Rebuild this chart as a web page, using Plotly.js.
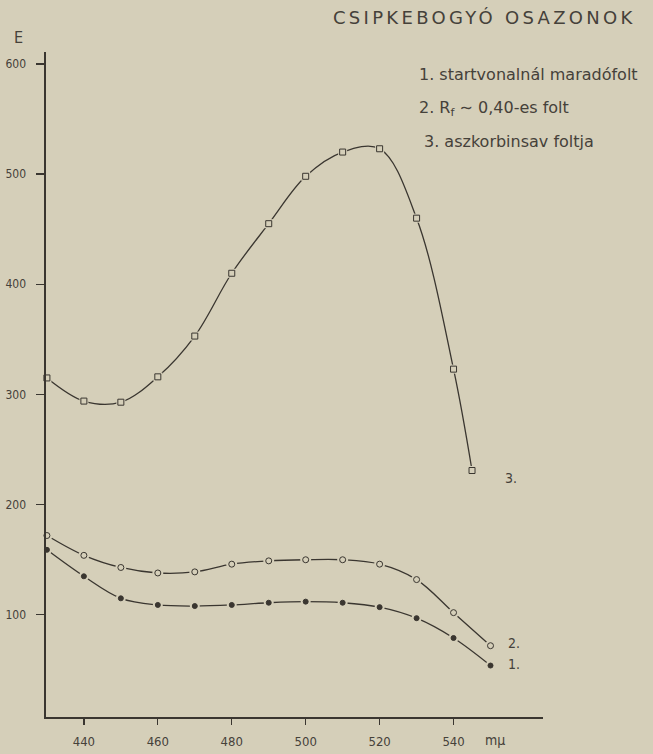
<!DOCTYPE html>
<html>
<head>
<meta charset="utf-8">
<script src="https://cdn.plot.ly/plotly-3.0.1.min.js"></script>
<style>
  html, body { margin: 0; padding: 0; background: #d5cfb9; }
  #chart { width: 653px; height: 754px; }
</style>
</head>
<body>
<div id="chart"></div>
<script>
// wavelength (mμ)
const wavelengths12 = [430, 440, 450, 460, 470, 480, 490, 500, 510, 520, 530, 540, 550];
const wavelengths3  = [430, 440, 450, 460, 470, 480, 490, 500, 510, 520, 530, 540, 545];

// 1. startvonalnál maradófolt
const series1 = [159, 135, 115, 109, 108, 109, 111, 112, 111, 107, 97, 79, 54];
// 2. Rf ~ 0,40-es folt
const series2 = [172, 154, 143, 138, 139, 146, 149, 150, 150, 146, 132, 102, 72];
// 3. aszkorbinsav foltja
const series3 = [315, 294, 293, 316, 353, 410, 455, 498, 520, 523, 460, 323, 231];

const xTicks = [440, 460, 480, 500, 520, 540];
const yTicks = [100, 200, 300, 400, 500, 600];

const legendTexts = ["1. startvonalnál maradófolt", "2. R<sub>f</sub> ∼ 0,40-es folt", "3. aszkorbinsav foltja"];
const titleText = "CSIPKEBOGYÓ OSAZONOK";

const BG = "#d5cfb9";
const INK = "#3a3630";
const TXT = "#45413a";
const FONT = "DejaVu Sans, sans-serif";
const FONTC = "DejaVu Sans Condensed, Liberation Sans Narrow, DejaVu Sans, sans-serif";

function lineTrace(x, y) {
  return { x: x, y: y, type: "scatter", mode: "lines", line: { color: INK, width: 1.3, shape: "spline", smoothing: 1 }, hoverinfo: "skip", cliponaxis: false };
}
function gapTrace(x, y, size, symbol) {
  return { x: x, y: y, type: "scatter", mode: "markers", marker: { symbol: symbol, size: size, color: BG, line: { width: 0 } }, hoverinfo: "skip", cliponaxis: false };
}
function markTrace(x, y, symbol, size, fill) {
  return { x: x, y: y, type: "scatter", mode: "markers", marker: { symbol: symbol, size: size, color: fill, line: { color: INK, width: 1 } }, cliponaxis: false };
}

const traces = [
  lineTrace(wavelengths3, series3),
  lineTrace(wavelengths12, series2),
  lineTrace(wavelengths12, series1),
  gapTrace(wavelengths3, series3, 9, "square"),
  gapTrace(wavelengths12, series2, 11, "circle"),
  gapTrace(wavelengths12, series1, 10, "circle"),
  markTrace(wavelengths3, series3, "square", 6, BG),
  markTrace(wavelengths12, series2, "circle", 6, BG),
  markTrace(wavelengths12, series1, "circle", 5, INK)
];

const plotL = 46, plotR = 543, plotT = 52, plotB = 717, W = 653, H = 754;
function px(x) { return (x - plotL) / (plotR - plotL); }
function py(y) { return (plotB - y) / (plotB - plotT); }

const annotations = [
  { text: titleText, x: px(485), y: py(18), font: { family: FONT, size: 18, color: TXT }, xanchor: "center", yanchor: "middle" },
  { text: "E", x: px(18), y: py(38), font: { family: FONTC, size: 16, color: TXT }, xanchor: "center", yanchor: "middle" },
  { text: "mμ", x: px(495), y: py(740), font: { family: FONTC, size: 14, color: TXT }, xanchor: "center", yanchor: "middle" },
  { text: legendTexts[0], x: px(417), y: py(75), font: { family: FONT, size: 16, color: TXT }, xanchor: "left", yanchor: "middle" },
  { text: legendTexts[1], x: px(417), y: py(108), font: { family: FONT, size: 16, color: TXT }, xanchor: "left", yanchor: "middle" },
  { text: legendTexts[2], x: px(422), y: py(141), font: { family: FONT, size: 16, color: TXT }, xanchor: "left", yanchor: "middle" },
  { text: "3.", x: px(503), y: py(478), font: { family: FONTC, size: 14, color: TXT }, xanchor: "left", yanchor: "middle" },
  { text: "2.", x: px(506), y: py(643), font: { family: FONTC, size: 14, color: TXT }, xanchor: "left", yanchor: "middle" },
  { text: "1.", x: px(506), y: py(664), font: { family: FONTC, size: 14, color: TXT }, xanchor: "left", yanchor: "middle" }
].map(a => Object.assign({ xref: "paper", yref: "paper", showarrow: false }, a));

const layout = {
  width: W, height: H,
  paper_bgcolor: BG, plot_bgcolor: BG,
  margin: { l: plotL, r: W - plotR, t: plotT, b: H - plotB, pad: 0 },
  showlegend: false,
  xaxis: {
    range: [429.75, 564.2],
    tickvals: xTicks, ticktext: xTicks.map(String),
    ticks: "outside", ticklen: 6, tickwidth: 1.3, tickcolor: INK,
    showline: true, linecolor: INK, linewidth: 1.6,
    showgrid: false, zeroline: false,
    tickfont: { family: FONTC, size: 13, color: TXT },
    ticklabelstandoff: 6
  },
  yaxis: {
    range: [7.3, 610.8],
    tickvals: yTicks, ticktext: yTicks.map(String),
    ticks: "outside", ticklen: 8, tickwidth: 1.3, tickcolor: INK,
    showline: true, linecolor: INK, linewidth: 1.6,
    showgrid: false, zeroline: false,
    tickfont: { family: FONTC, size: 12, color: TXT },
    ticklabelstandoff: 8
  },
  annotations: annotations
};

Plotly.newPlot("chart", traces, layout, { staticPlot: true, displayModeBar: false }).then(function () {
  const nodes = document.querySelectorAll(".annotation-text");
  if (nodes.length) { nodes[0].style.letterSpacing = "3.3px"; }
});
</script>
</body>
</html>
